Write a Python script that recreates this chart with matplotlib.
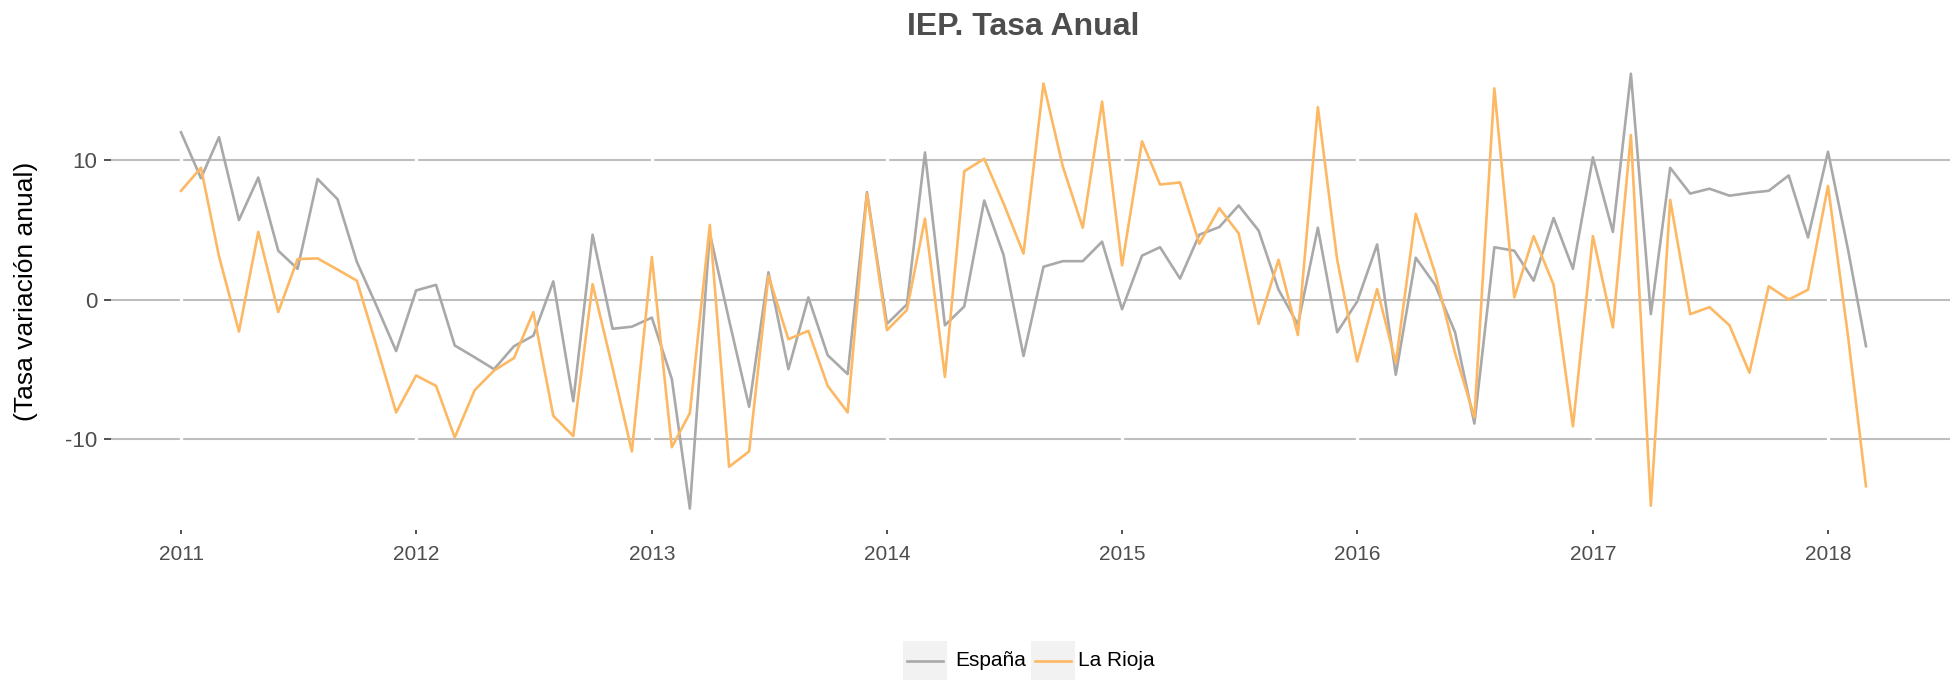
import numpy as np
import pandas as pd
import matplotlib
matplotlib.use("Agg")
import matplotlib.pyplot as plt
import matplotlib.dates as mdates
from matplotlib.patches import Rectangle
from matplotlib.lines import Line2D

plt.rcParams['font.family'] = ['Liberation Sans', 'DejaVu Sans']
plt.rcParams['axes.unicode_minus'] = False

# Datos: tasa de variación anual mensual (ene 2011 - mar 2018)
fechas = pd.date_range("2011-01-01", "2018-03-01", freq="MS")

espana = [12.0, 8.7, 11.65, 5.7, 8.75, 3.5, 2.2, 8.65, 7.2, 2.7, -0.5, -3.7,
          0.65, 1.05, -3.3, -4.15, -5.0, -3.35, -2.6, 1.3, -7.3, 4.65, -2.1, -1.95,
          -1.3, -5.7, -15.0, 4.75, -1.5, -7.7, 1.95, -5.0, 0.15, -4.0, -5.35, 7.7,
          -1.75, -0.35, 10.55, -1.85, -0.5, 7.1, 3.2, -4.05, 2.35, 2.75, 2.75, 4.15,
          -0.7, 3.15, 3.75, 1.5, 4.65, 5.2, 6.75, 4.95, 0.7, -1.8, 5.15, -2.35,
          -0.15, 3.95, -5.4, 3.0, 1.05, -2.35, -8.9, 3.75, 3.5, 1.35, 5.85, 2.2,
          10.2, 4.85, 16.2, -1.05, 9.45, 7.6, 7.95, 7.45, 7.65, 7.8, 8.9, 4.45,
          10.6, 3.6, -3.35]

la_rioja = [7.8, 9.45, 3.1, -2.3, 4.85, -0.9, 2.9, 2.95, 2.15, 1.35, -3.4, -8.1,
            -5.45, -6.2, -9.9, -6.5, -5.1, -4.2, -0.9, -8.35, -9.8, 1.1, -4.9, -10.9,
            3.05, -10.6, -8.15, 5.35, -12.0, -10.9, 1.7, -2.85, -2.25, -6.2, -8.1, 7.6,
            -2.2, -0.75, 5.8, -5.55, 9.2, 10.1, 6.9, 3.3, 15.5, 9.55, 5.15, 14.2,
            2.45, 11.35, 8.25, 8.4, 4.0, 6.55, 4.75, -1.75, 2.85, -2.55, 13.8, 2.85,
            -4.45, 0.75, -4.55, 6.15, 1.9, -3.85, -8.45, 15.15, 0.15, 4.55, 1.05, -9.1,
            4.55, -2.0, 11.8, -14.8, 7.15, -1.05, -0.55, -1.85, -5.25, 0.95, 0.0, 0.7,
            8.15, -2.6, -13.4]

series = ["España", "La Rioja"]
colores = ["#A9A9A9", "#FDB863"]
anios = pd.date_range("2011-01-01", "2018-01-01", freq="YS")

W, H = 1952, 681
fig = plt.figure(figsize=(W / 100, H / 100), dpi=100)
ax = fig.add_axes([111 / W, 1 - 530 / H, 1839 / W, 478 / H])

for s, vals, c in zip(series, [espana, la_rioja], colores):
    ax.plot(fechas, vals, color=c, lw=1.9, zorder=3, label=s)

# cortes blancos de la rejilla en cada año (como en ggplot)
for a in anios:
    ax.axvline(a, color="white", lw=2.4, zorder=1.5)

ax.set_axisbelow(True)
ax.yaxis.grid(True, color="#BEBEBE", lw=1.5)
ax.xaxis.grid(False)
for sp in ax.spines.values():
    sp.set_visible(False)

x0 = mdates.date2num(pd.Timestamp("2011-01-01"))
x1 = mdates.date2num(pd.Timestamp("2018-01-01"))
px_dia = (1828 - 181) / (x1 - x0)
ax.set_xlim(x0 - (181 - 111) / px_dia, x1 + (1950 - 1828) / px_dia)
ax.set_ylim(-16.54, 17.76)

ax.set_xticks(anios)
ax.set_xticklabels([str(a.year) for a in anios])
ax.set_yticks([-10, 0, 10])
ax.tick_params(axis="x", length=3, width=1.2, color="#333333",
               labelcolor="#4D4D4D", labelsize=15, pad=8)
ax.tick_params(axis="y", length=5, width=1.2, color="#333333",
               labelcolor="#4D4D4D", labelsize=16, pad=5)

ax.set_ylabel("(Tasa variación anual)", fontsize=19, color="black")
ax.yaxis.set_label_coords((38 - 111) / 1839, 0.5)

fig.text(1023 / W, 1 - 35 / H, "IEP. Tasa Anual", ha="center", va="baseline",
         fontsize=23, fontweight="bold", color="#4D4D4D")

# leyenda al pie
claves = [(903, 955), (1031, 1078)]
for (kx, tx), s, c in zip(claves, series, colores):
    fig.add_artist(Rectangle((kx / W, 1 / H), 44 / W, 39 / H,
                             transform=fig.transFigure, facecolor="#F2F2F2",
                             edgecolor="none"))
    fig.add_artist(Line2D([(kx + 4) / W, (kx + 40) / W], [1 - 661 / H] * 2,
                          transform=fig.transFigure, color=c, lw=1.9))
    fig.text(tx / W, 1 - 661 / H, s, ha="left", va="center", fontsize=15,
             color="black")

fig.savefig("out.png", dpi=100)
